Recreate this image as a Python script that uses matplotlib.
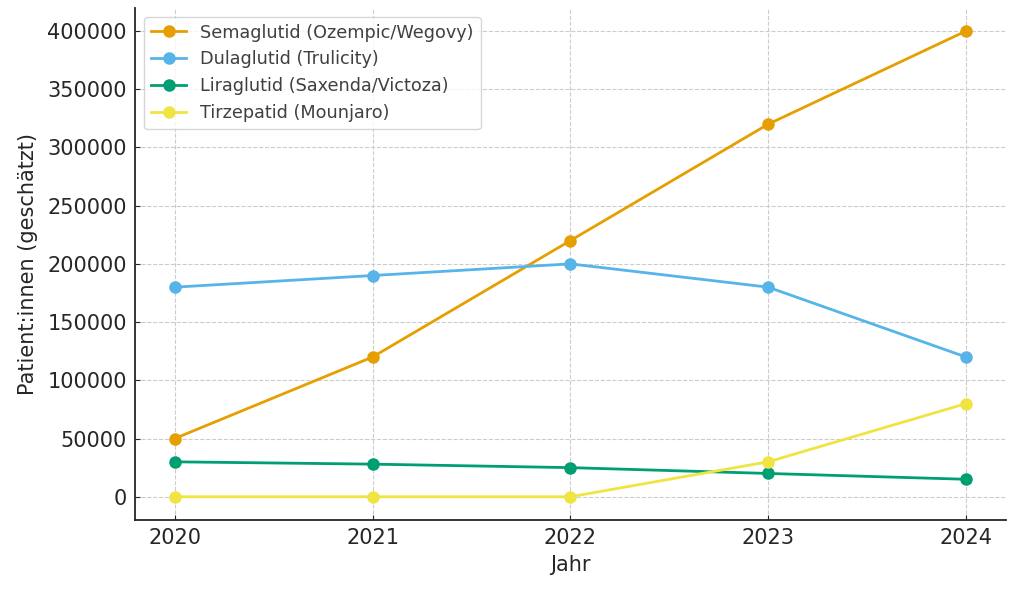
import matplotlib
matplotlib.use("Agg")
import matplotlib.pyplot as plt

years = [2020, 2021, 2022, 2023, 2024]
semaglutid = [50000, 120000, 220000, 320000, 400000]
dulaglutid = [180000, 190000, 200000, 180000, 120000]
liraglutid = [30000, 28000, 25000, 20000, 15000]
tirzepatid = [0, 0, 0, 30000, 80000]

labels = ["Semaglutid (Ozempic/Wegovy)", "Dulaglutid (Trulicity)",
          "Liraglutid (Saxenda/Victoza)", "Tirzepatid (Mounjaro)"]
colors = ["#E69F00", "#56B4E9", "#009E73", "#F0E442"]

fig, ax = plt.subplots(figsize=(10.24, 5.95), dpi=100)
for vals, lab, c in zip([semaglutid, dulaglutid, liraglutid, tirzepatid], labels, colors):
    ax.plot(years, vals, marker="o", color=c, label=lab, lw=2, ms=8)

ax.set_xticks(years)
ax.set_xlabel("Jahr", fontsize=15, color="#262626", labelpad=5)
ax.set_ylabel("Patient:innen (geschätzt)", fontsize=15, color="#262626", labelpad=7)
ax.tick_params(labelsize=15, direction="in", colors="#262626", pad=6)
ax.grid(True, ls="--", color="#cccccc", lw=0.8)
ax.spines["top"].set_visible(False)
ax.spines["right"].set_visible(False)
for s in ["left", "bottom"]:
    ax.spines[s].set_linewidth(1.3)
    ax.spines[s].set_color("#262626")
leg = ax.legend(fontsize=12.7, loc="upper left")
for t in leg.get_texts():
    t.set_color("#404040")

fig.subplots_adjust(left=0.132, right=0.982, top=0.987, bottom=0.126)
fig.savefig("out.png", dpi=100)
